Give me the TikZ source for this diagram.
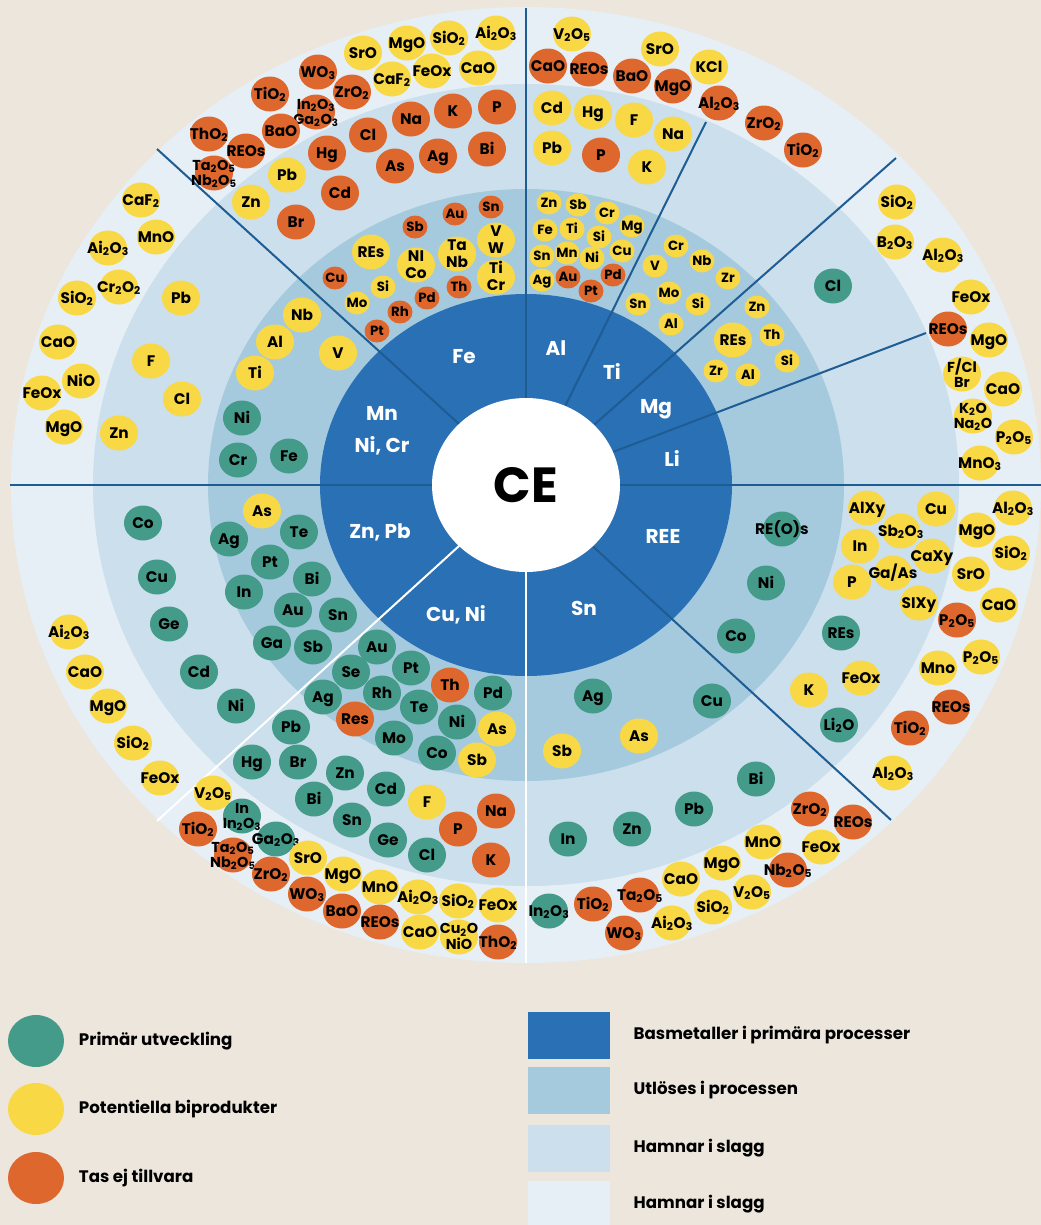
\documentclass[tikz,border=0pt]{standalone}
\usepackage{fontspec}
\setmainfont{Poppins}
\usetikzlibrary{shapes.geometric,positioning}

\definecolor{bgcol}{HTML}{ECE6DD}
\definecolor{ringA}{HTML}{2A70B5}
\definecolor{ringB}{HTML}{A5CADE}
\definecolor{ringC}{HTML}{CBDFEC}
\definecolor{ringD}{HTML}{E6EFF6}
\definecolor{sepcol}{HTML}{1E5C94}
\definecolor{cgreen}{HTML}{459B8A}
\definecolor{cyellow}{HTML}{F9D845}
\definecolor{corange}{HTML}{DE672E}

\newcommand{\sbx}[1]{\textsubscript{#1}}
\newcommand{\twol}[2]{{\def\arraystretch{1}\begin{tabular}{@{}c@{}}#1\\#2\end{tabular}}}

\tikzset{
  bub/.style={ellipse,inner sep=0pt,minimum width=28.5pt,minimum height=26.25pt,
    font=\bfseries\fontsize{11.5}{12.5}\selectfont,text height=8pt,text depth=0pt,
    execute at begin node={\hbox to 0pt\bgroup\hss},
    execute at end node={\hss\egroup}},
  small/.style={minimum width=18.75pt,minimum height=17.25pt,
    font=\bfseries\fontsize{10}{11}\selectfont,text height=7pt},
  two/.style={font=\bfseries\fontsize{10.8}{11.5}\selectfont},
  pri/.style={bub,fill=cgreen},
  byp/.style={bub,fill=cyellow},
  lost/.style={bub,fill=corange},
  metal/.style={text=white,font=\bfseries\fontsize{15}{24}\selectfont,align=center},
  sep/.style={draw=sepcol,line width=1.5pt},
  sepw/.style={draw=white,line width=1.5pt},
  legdot/.style={ellipse,inner sep=0pt,minimum width=42pt,minimum height=39pt},
  legbox/.style={rectangle,inner sep=0pt,minimum width=61.5pt,minimum height=35.25pt},
  legtxt/.style={font=\bfseries\fontsize{12.5}{15}\selectfont,anchor=west}
}

\begin{document}
\begin{tikzpicture}[x=0.75pt,y=-0.75pt]
\useasboundingbox (0,0) rectangle (1041,1225);
\fill[bgcol] (0,0) rectangle (1041,1225);
\coordinate (c) at (526,485);

% rings
\fill[ringD] (c) ellipse [x radius=515,y radius=478];
\fill[ringC] (c) ellipse [x radius=433,y radius=401];
\fill[ringB] (c) ellipse [x radius=318,y radius=296];
\fill[ringA] (c) ellipse [x radius=206,y radius=191];

% sectors
\draw[sep] (c) -- (526,8);
\draw[sep] (c) -- (157,149);
\draw[sep] (10,485) -- (1041,485);
\draw[sep] (c) -- (706,122);
\draw[sep] (c) -- (896,158);
\draw[sep] (c) -- (926,333);
\draw[sep] (c) -- (891,820);
\draw[sepw] (c) -- (526,963);
\draw[sepw] (c) -- (157,821);

\node[ellipse,fill=white,inner sep=0pt,minimum width=141pt,minimum height=130.5pt,
  font=\bfseries\fontsize{37}{40}\selectfont] (ce) at (c) {CE};

% base metals
\node[metal] (fe) at (464,357) {Fe};
\node[metal] (al) at (556,348) {Al};
\node[metal] (ti) at (612,371) {Ti};
\node[metal] (mg) at (656,409) {Mg};
\node[metal] (li) at (672,458) {Li};
\node[metal] (mn) at (382,431) {Mn\\Ni, Cr};
\node[metal] (znpb) at (380,532) {Zn, Pb};
\node[metal] (ree) at (663,536) {REE};
\node[metal] (sn) at (584,608) {Sn};
\node[metal] (cuni) at (456,615) {Cu, Ni};

% inner ring
\node[lost,small] (b1) at (415,227) {Sb};
\node[lost,small] (b2) at (455,214) {Au};
\node[lost,small] (b3) at (491,207) {Sn};
\node[byp] (b4) at (371,252) {REs};
\node[byp] (b5) at (416,265) {\twol{NI}{Co}};
\node[byp] (b6) at (457,254) {\twol{Ta}{Nb}};
\node[byp] (b7) at (496,240) {\twol{V}{W}};
\node[byp] (b8) at (496,277) {\twol{Ti}{Cr}};
\node[lost,small] (b9) at (335,278) {Cu};
\node[byp,small] (b10) at (383,287) {Si};
\node[lost,small] (b11) at (459,287) {Th};
\node[lost,small] (b12) at (427,298) {Pd};
\node[byp,small] (b13) at (357,303) {Mo};
\node[lost,small] (b14) at (400,312) {Rh};
\node[lost,small] (b15) at (377,331) {Pt};
\node[byp] (b16) at (302,315) {Nb};
\node[byp] (b17) at (275,342) {Al};
\node[byp] (b18) at (338,353) {V};
\node[byp] (b19) at (255,373) {Ti};
\node[pri] (b20) at (242,418) {Ni};
\node[pri] (b21) at (238,460) {Cr};
\node[pri] (b22) at (289,456) {Fe};
\node[byp,small] (b23) at (549,203) {Zn};
\node[byp,small] (b24) at (578,205) {Sb};
\node[byp,small] (b25) at (607,213) {Cr};
\node[byp,small] (b26) at (632,226) {Mg};
\node[byp,small] (b27) at (545,230) {Fe};
\node[byp,small] (b28) at (572,229) {Ti};
\node[byp,small] (b29) at (599,237) {Si};
\node[byp,small] (b30) at (622,251) {Cu};
\node[byp,small] (b31) at (542,256) {Sn};
\node[byp,small] (b32) at (567,253) {Mn};
\node[byp,small] (b33) at (592,258) {Ni};
\node[byp,small] (b34) at (542,280) {Ag};
\node[lost,small] (b35) at (568,277) {Au};
\node[lost,small] (b36) at (613,275) {Pd};
\node[lost,small] (b37) at (591,291) {Pt};
\node[byp,small] (b38) at (676,246) {Cr};
\node[byp,small] (b39) at (655,266) {V};
\node[byp,small] (b40) at (702,261) {Nb};
\node[byp,small] (b41) at (728,278) {Zr};
\node[byp,small] (b42) at (669,293) {Mo};
\node[byp,small] (b43) at (638,304) {Sn};
\node[byp,small] (b44) at (698,304) {Si};
\node[byp,small] (b45) at (671,324) {Al};
\node[byp,small] (b46) at (757,307) {Zn};
\node[byp] (b47) at (733,340) {REs};
\node[byp,small] (b48) at (772,335) {Th};
\node[byp,small] (b49) at (787,361) {Si};
\node[byp,small] (b50) at (716,371) {Zr};
\node[byp,small] (b51) at (748,375) {Al};
\node[pri] (b52) at (782,529) {RE(O)s};
\node[pri] (b53) at (766,583) {Ni};
\node[pri] (b54) at (736,636) {Co};
\node[pri] (b55) at (712,701) {Cu};
\node[pri] (b56) at (593,696) {Ag};
\node[byp] (b57) at (639,736) {As};
\node[byp] (b58) at (562,751) {Sb};
\node[pri] (b59) at (377,647) {Au};
\node[pri] (b60) at (351,672) {Se};
\node[pri] (b61) at (411,668) {Pt};
\node[lost] (b62) at (450,685) {Th};
\node[pri] (b63) at (493,693) {Pd};
\node[pri] (b64) at (323,697) {Ag};
\node[pri] (b65) at (382,693) {Rh};
\node[pri] (b66) at (419,707) {Te};
\node[lost] (b67) at (355,719) {Res};
\node[pri] (b68) at (457,722) {Ni};
\node[byp] (b69) at (497,729) {As};
\node[pri] (b70) at (394,738) {Mo};
\node[pri] (b71) at (437,753) {Co};
\node[byp] (b72) at (477,760) {Sb};
\node[byp] (b73) at (262,511) {As};
\node[pri] (b74) at (229,539) {Ag};
\node[pri] (b75) at (299,532) {Te};
\node[pri] (b76) at (270,562) {Pt};
\node[pri] (b77) at (312,579) {Bi};
\node[pri] (b78) at (244,592) {In};
\node[pri] (b79) at (293,610) {Au};
\node[pri] (b80) at (338,615) {Sn};
\node[pri] (b81) at (272,643) {Ga};
\node[pri] (b82) at (313,647) {Sb};

% slag ring
\node[lost] (c1) at (411,119) {Na};
\node[lost] (c2) at (453,111) {K};
\node[lost] (c3) at (497,107) {P};
\node[lost] (c4) at (368,135) {Cl};
\node[lost] (c5) at (327,153) {Hg};
\node[lost] (c6) at (395,166) {As};
\node[lost] (c7) at (438,156) {Ag};
\node[lost] (c8) at (487,149) {Bi};
\node[byp] (c9) at (287,175) {Pb};
\node[lost] (c10) at (340,193) {Cd};
\node[byp] (c11) at (251,202) {Zn};
\node[lost] (c12) at (296,222) {Br};
\node[byp] (c13) at (552,108) {Cd};
\node[byp] (c14) at (593,112) {Hg};
\node[byp] (c15) at (634,120) {F};
\node[byp] (c16) at (673,134) {Na};
\node[byp] (c17) at (552,148) {Pb};
\node[lost] (c18) at (601,155) {P};
\node[byp] (c19) at (647,167) {K};
\node[pri] (c20) at (833,286) {Cl};
\node[byp] (c21) at (181,298) {Pb};
\node[byp] (c22) at (151,361) {F};
\node[byp] (c23) at (182,399) {Cl};
\node[byp] (c24) at (119,433) {Zn};
\node[pri] (c25) at (143,523) {Co};
\node[pri] (c26) at (157,577) {Cu};
\node[pri] (c27) at (169,624) {Ge};
\node[pri] (c28) at (199,672) {Cd};
\node[pri] (c29) at (236,706) {Ni};
\node[pri] (c30) at (291,727) {Pb};
\node[pri] (c31) at (252,762) {Hg};
\node[pri] (c32) at (298,762) {Br};
\node[pri] (c33) at (345,773) {Zn};
\node[pri] (c34) at (386,789) {Cd};
\node[pri] (c35) at (314,799) {Bi};
\node[byp] (c36) at (427,802) {F};
\node[lost] (c37) at (496,811) {Na};
\node[pri] (c38) at (352,820) {Sn};
\node[lost] (c39) at (458,829) {P};
\node[pri] (c40) at (388,840) {Ge};
\node[pri] (c41) at (427,855) {Cl};
\node[lost] (c42) at (491,860) {K};
\node[pri] (c43) at (756,779) {Bi};
\node[pri] (c44) at (694,809) {Pb};
\node[pri] (c45) at (632,829) {Zn};
\node[pri] (c46) at (568,839) {In};
\node[byp] (c47) at (867,508) {AlXy};
\node[byp] (c48) at (936,509) {Cu};
\node[byp] (c49) at (901,531) {Sb\sbx2O\sbx3};
\node[byp] (c50) at (860,546) {In};
\node[byp] (c51) at (932,556) {CaXy};
\node[byp] (c52) at (893,573) {Ga/As};
\node[byp] (c53) at (852,582) {P};
\node[byp] (c54) at (919,603) {SIXy};
\node[pri] (c55) at (841,633) {REs};
\node[byp] (c56) at (861,678) {FeOx};
\node[byp] (c57) at (809,690) {K};
\node[pri] (c58) at (839,725) {Li\sbx2O};

% outer slag ring
\node[byp] (d1) at (363,53) {SrO};
\node[byp] (d2) at (407,43) {MgO};
\node[byp] (d3) at (449,38) {SiO\sbx2};
\node[byp] (d4) at (496,33) {Ai\sbx2O\sbx3};
\node[lost] (d5) at (318,72) {WO\sbx3};
\node[lost] (d6) at (352,92) {ZrO\sbx2};
\node[byp] (d7) at (392,79) {CaF\sbx2};
\node[byp] (d8) at (432,71) {FeOx};
\node[byp] (d9) at (478,68) {CaO};
\node[lost] (d10) at (270,94) {TiO\sbx2};
\node[lost,two] (d11) at (316,112) {\twol{In\sbx2O\sbx3}{Ga\sbx2O\sbx3}};
\node[lost] (d12) at (281,131) {BaO};
\node[lost] (d13) at (209,134) {ThO\sbx2};
\node[lost] (d14) at (246,151) {REOs};
\node[lost,two] (d15) at (214,173) {\twol{Ta\sbx2O\sbx5}{Nb\sbx2O\sbx5}};
\node[byp] (d16) at (572,34) {V\sbx2O\sbx5};
\node[byp] (d17) at (660,49) {SrO};
\node[lost] (d18) at (548,66) {CaO};
\node[lost] (d19) at (589,69) {REOs};
\node[lost] (d20) at (632,76) {BaO};
\node[lost] (d21) at (673,86) {MgO};
\node[byp] (d22) at (709,67) {KCl};
\node[lost] (d23) at (719,103) {Al\sbx2O\sbx3};
\node[lost] (d24) at (764,123) {ZrO\sbx2};
\node[lost] (d25) at (803,150) {TiO\sbx2};
\node[byp] (d26) at (897,202) {SiO\sbx2};
\node[byp] (d27) at (895,242) {B\sbx2O\sbx3};
\node[byp] (d28) at (943,255) {Al\sbx2O\sbx3};
\node[byp] (d29) at (971,297) {FeOx};
\node[lost] (d30) at (948,329) {REOs};
\node[byp] (d31) at (989,340) {MgO};
\node[byp,two] (d32) at (962,374) {\twol{F/Cl}{Br}};
\node[byp] (d33) at (1003,389) {CaO};
\node[byp,two] (d34) at (973,416) {\twol{K\sbx2O}{Na\sbx2O}};
\node[byp] (d35) at (1014,437) {P\sbx2O\sbx5};
\node[byp] (d36) at (980,463) {MnO\sbx3};
\node[byp] (d37) at (1013,508) {Al\sbx2O\sbx3};
\node[byp] (d38) at (977,530) {MgO};
\node[byp] (d39) at (1011,553) {SiO\sbx2};
\node[byp] (d40) at (971,574) {SrO};
\node[byp] (d41) at (999,605) {CaO};
\node[lost] (d42) at (957,620) {P\sbx2O\sbx5};
\node[byp] (d43) at (938,668) {Mno};
\node[byp] (d44) at (981,657) {P\sbx2O\sbx5};
\node[lost] (d45) at (951,707) {REOs};
\node[lost] (d46) at (910,728) {TiO\sbx2};
\node[byp] (d47) at (893,773) {Al\sbx2O\sbx3};
\node[lost] (d48) at (810,809) {ZrO\sbx2};
\node[lost] (d49) at (853,822) {REOs};
\node[byp] (d50) at (763,842) {MnO};
\node[byp] (d51) at (821,847) {FeOx};
\node[byp] (d52) at (722,863) {MgO};
\node[lost] (d53) at (788,870) {Nb\sbx2O\sbx5};
\node[byp] (d54) at (681,879) {CaO};
\node[byp] (d55) at (752,892) {V\sbx2O\sbx5};
\node[lost] (d56) at (640,895) {Ta\sbx2O\sbx5};
\node[pri] (d57) at (549,911) {In\sbx2O\sbx3};
\node[lost] (d58) at (593,904) {TiO\sbx2};
\node[byp] (d59) at (713,907) {SiO\sbx2};
\node[byp] (d60) at (672,923) {Ai\sbx2O\sbx3};
\node[lost] (d61) at (624,933) {WO\sbx3};
\node[byp] (d62) at (213,793) {V\sbx2O\sbx5};
\node[pri,two] (d63) at (242,816) {\twol{In}{In\sbx2O\sbx3}};
\node[lost] (d64) at (198,829) {TiO\sbx2};
\node[pri] (d65) at (276,839) {Ga\sbx2O\sbx3};
\node[lost,two] (d66) at (233,855) {\twol{Ta\sbx2O\sbx5}{Nb\sbx2O\sbx5}};
\node[byp] (d67) at (308,858) {SrO};
\node[lost] (d68) at (271,874) {ZrO\sbx2};
\node[byp] (d69) at (343,874) {MgO};
\node[lost] (d70) at (307,894) {WO\sbx3};
\node[byp] (d71) at (380,887) {MnO};
\node[lost] (d72) at (342,911) {BaO};
\node[byp] (d73) at (418,897) {Ai\sbx2O\sbx3};
\node[byp] (d74) at (458,901) {SiO\sbx2};
\node[byp] (d75) at (498,905) {FeOx};
\node[lost] (d76) at (380,922) {REOs};
\node[byp] (d77) at (420,932) {CaO};
\node[byp,two] (d78) at (459,937) {\twol{Cu\sbx2O}{NiO}};
\node[lost] (d79) at (498,942) {ThO\sbx2};
\node[byp] (d80) at (141,200) {CaF\sbx2};
\node[byp] (d81) at (156,237) {MnO};
\node[byp] (d82) at (108,248) {Ai\sbx2O\sbx3};
\node[byp] (d83) at (119,287) {Cr\sbx2O\sbx2};
\node[byp] (d84) at (77,298) {SiO\sbx2};
\node[byp] (d85) at (58,342) {CaO};
\node[byp] (d86) at (81,381) {NiO};
\node[byp] (d87) at (42,393) {FeOx};
\node[byp] (d88) at (64,427) {MgO};
\node[byp] (d89) at (69,632) {Ai\sbx2O\sbx3};
\node[byp] (d90) at (85,672) {CaO};
\node[byp] (d91) at (108,706) {MgO};
\node[byp] (d92) at (133,743) {SiO\sbx2};
\node[byp] (d93) at (160,778) {FeOx};

% legend
\node[legdot,fill=cgreen] (lg1) at (36,1041) {};
\node[legtxt,right=7.5pt of lg1] (lt1) {Primär utveckling};
\node[legdot,fill=cyellow] (lg2) at (36,1109) {};
\node[legtxt,right=7.5pt of lg2] (lt2) {Potentiella biprodukter};
\node[legdot,fill=corange] (lg3) at (36,1178) {};
\node[legtxt,right=7.5pt of lg3] (lt3) {Tas ej tillvara};

\node[legbox,fill=ringA] (sq1) at (569,1035.5) {};
\node[legtxt,right=14pt of sq1] (st1) {Basmetaller i primära processer};
\node[legbox,fill=ringB] (sq2) at (569,1090.5) {};
\node[legtxt,right=14pt of sq2] (st2) {Utlöses i processen};
\node[legbox,fill=ringC] (sq3) at (569,1148.5) {};
\node[legtxt,right=14pt of sq3] (st3) {Hamnar i slagg};
\node[legbox,fill=ringD] (sq4) at (569,1204.5) {};
\node[legtxt,right=14pt of sq4] (st4) {Hamnar i slagg};
\end{tikzpicture}
\end{document}
